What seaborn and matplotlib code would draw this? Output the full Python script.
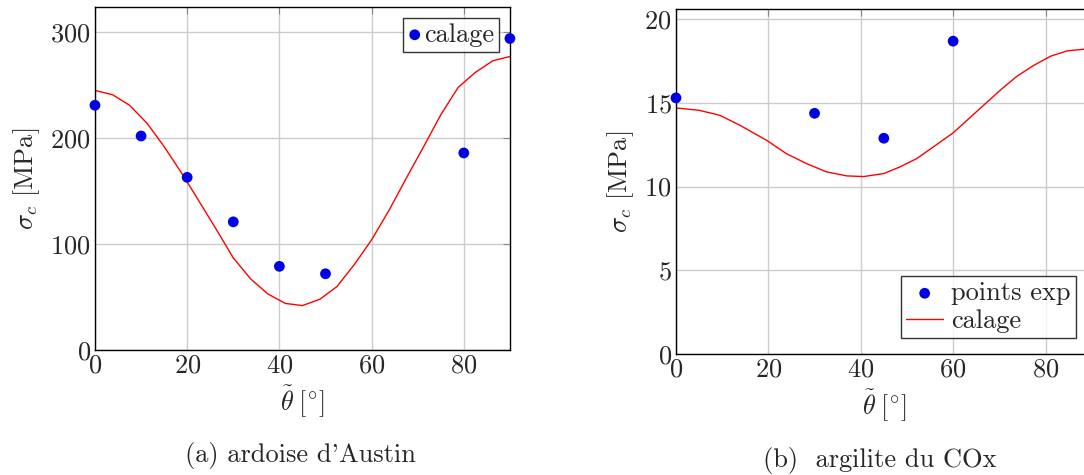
import numpy as np
import pandas as pd
import matplotlib
matplotlib.use('Agg')
import matplotlib.pyplot as plt
import seaborn as sns

# (a) ardoise d'Austin
theta_exp_a = [0, 10, 20, 30, 40, 50, 80, 90]
sigma_exp_a = [231, 202, 163, 121, 79, 72, 186, 294]
theta_fit_a = [0, 3.8, 7.5, 11.3, 15, 18.8, 22.5, 26.3, 30, 33.8, 37.5, 41.3, 45,
               48.8, 52.5, 56.3, 60, 63.8, 67.5, 71.3, 75, 78.8, 82.5, 86.3, 90]
sigma_fit_a = [245, 241, 231, 214, 192, 167, 141, 114, 87, 67, 53, 44, 42,
               48, 60, 81, 104, 132, 162, 192, 222, 248, 262, 273, 277]

# (b) argilite du COx
theta_exp_b = [0, 30, 45, 60]
sigma_exp_b = [15.3, 14.38, 12.89, 18.69]
theta_fit_b = [0, 5, 9.5, 13.8, 19.6, 23.9, 28.3, 32.6, 37, 40.6, 45, 48.5, 52.1,
               55.7, 60, 63, 66.6, 70.2, 73.8, 77.5, 81.1, 84.7, 88.4, 90]
sigma_fit_b = [14.70, 14.56, 14.26, 13.67, 12.77, 11.97, 11.37, 10.88, 10.64, 10.60,
               10.78, 11.18, 11.67, 12.37, 13.21, 13.96, 14.86, 15.76, 16.59, 17.25,
               17.79, 18.11, 18.21, 18.2]

sns.set_style('white')
plt.rcParams['font.family'] = ['cmr10', 'DejaVu Serif']
plt.rcParams['mathtext.fontset'] = 'cm'
plt.rcParams['axes.formatter.use_mathtext'] = True
plt.rcParams['axes.unicode_minus'] = False

fig = plt.figure(figsize=(10.84, 4.75), dpi=100)
ax_a = fig.add_axes([0.0876, 0.263, 0.3828, 0.722])
ax_b = fig.add_axes([0.6236, 0.2547, 0.3835, 0.726])

blue = '#0000e6'
red = '#ff0000'
fs = 19


def style_axes(ax, ymax, yticks):
    ax.set_xlim(0, 90)
    ax.set_ylim(0, ymax)
    ax.set_xticks([0, 20, 40, 60, 80])
    ax.set_yticks(yticks)
    ax.grid(True, color='#cccccc', linewidth=1.0)
    ax.set_axisbelow(True)
    ax.tick_params(direction='in', length=5, color='#888888', labelsize=fs,
                   top=True, right=True, pad=3)
    for s in ax.spines.values():
        s.set_color('black')
        s.set_linewidth(1.0)
    ax.set_xlabel(r'$\tilde{\theta}\;[^{\circ}]$', fontsize=fs, labelpad=4)
    ax.set_ylabel(r'$\sigma_c$ [MPa]', fontsize=fs, labelpad=6)


df_fit_a = pd.DataFrame({'theta': theta_fit_a, 'sigma': sigma_fit_a})
df_exp_a = pd.DataFrame({'theta': theta_exp_a, 'sigma': sigma_exp_a})
sns.lineplot(data=df_fit_a, x='theta', y='sigma', ax=ax_a, color=red,
             linewidth=1.0)
sns.scatterplot(data=df_exp_a, x='theta', y='sigma', ax=ax_a, color=blue,
                s=60, edgecolor='none', label='calage', clip_on=False, zorder=5)
style_axes(ax_a, 323.6, [0, 100, 200, 300])
leg = ax_a.legend(loc='upper right', fontsize=fs, frameon=True, fancybox=False,
                  edgecolor='black', handletextpad=0.1, borderpad=0.2,
                  handlelength=0.5, borderaxespad=0.4)
leg.get_frame().set_linewidth(1.0)

df_fit_b = pd.DataFrame({'theta': theta_fit_b, 'sigma': sigma_fit_b})
df_exp_b = pd.DataFrame({'theta': theta_exp_b, 'sigma': sigma_exp_b})
sns.scatterplot(data=df_exp_b, x='theta', y='sigma', ax=ax_b, color=blue,
                s=60, edgecolor='none', label='points exp', clip_on=False, zorder=5)
sns.lineplot(data=df_fit_b, x='theta', y='sigma', ax=ax_b, color=red,
             linewidth=1.0, label='calage')
style_axes(ax_b, 20.6, [0, 5, 10, 15, 20])
leg = ax_b.legend(loc='lower right', fontsize=fs, frameon=True, fancybox=False,
                  edgecolor='black', borderpad=0.2, handlelength=1.4,
                  handletextpad=0.3, labelspacing=0.15, borderaxespad=0.6,
                  bbox_to_anchor=(0.955, 0.0, 0.045, 1.0))
leg.get_frame().set_linewidth(1.0)

fig.text(0.277, 0.042, "(a) ardoise d'Austin", ha='center', va='center', fontsize=fs)
fig.text(0.812, 0.03, "(b)  argilite du COx", ha='center', va='center', fontsize=fs)

fig.savefig('out.png', dpi=100)
